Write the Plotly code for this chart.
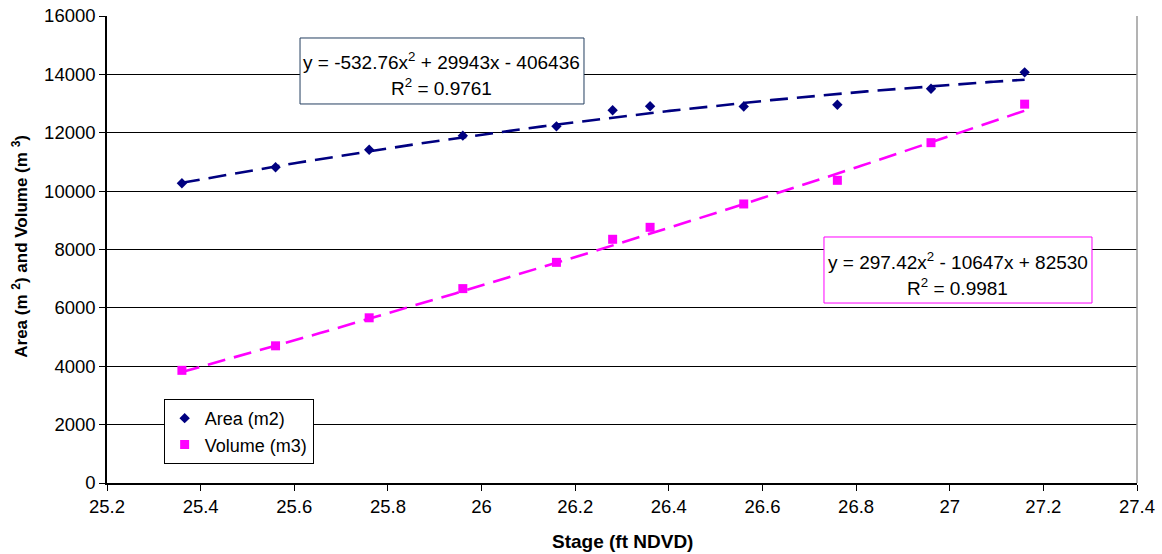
import numpy as np
import plotly.graph_objects as go

# Stage readings (ft NDVD)
stage = [25.36, 25.56, 25.76, 25.96, 26.16, 26.28, 26.36, 26.56, 26.76, 26.96, 27.16]
# Surface area (m2) and storage volume (m3) at each stage
area = [10270, 10820, 11420, 11900, 12220, 12770, 12910, 12900, 12960, 13510, 14070]
volume = [3860, 4700, 5660, 6660, 7560, 8350, 8760, 9560, 10370, 11660, 12980]

# Second-order polynomial trendline coefficients (a, b, c) for a*x^2 + b*x + c
area_coef = [-532.76, 29943, -406436]
area_r2 = 0.9761
volume_coef = [297.42, -10647, 82530]
volume_r2 = 0.9981

x_ticks = [25.2, 25.4, 25.6, 25.8, 26.0, 26.2, 26.4, 26.6, 26.8, 27.0, 27.2, 27.4]
x_tick_text = ["25.2", "25.4", "25.6", "25.8", "26", "26.2", "26.4", "26.6", "26.8", "27", "27.2", "27.4"]
y_ticks = [0, 2000, 4000, 6000, 8000, 10000, 12000, 14000, 16000]
y_tick_text = ["0", "2000", "4000", "6000", "8000", "10000", "12000", "14000", "16000"]

NAVY = "#000080"
MAGENTA = "#FF00FF"
FONT = "Liberation Sans, Arial, sans-serif"
TICK_SIZE = 18.5


def poly_text(c):
    def term(v, suffix, first=False):
        s = f"{abs(v):g}{suffix}"
        if first:
            return ("-" if v < 0 else "") + s
        return (" - " if v < 0 else " + ") + s
    return "y = " + term(c[0], "x<sup>2</sup>", True) + term(c[1], "x") + term(c[2], "")


xs = np.linspace(min(stage), max(stage), 300)

fig = go.Figure()

fig.add_trace(go.Scatter(
    x=xs, y=np.polyval(area_coef, xs), mode="lines",
    line=dict(color=NAVY, width=2.6, dash="18px,9px"),
    showlegend=False, hoverinfo="skip"))
fig.add_trace(go.Scatter(
    x=xs, y=np.polyval(volume_coef, xs), mode="lines",
    line=dict(color=MAGENTA, width=2.6, dash="18px,9px"),
    showlegend=False, hoverinfo="skip"))

fig.add_trace(go.Scatter(
    x=stage, y=area, mode="markers", name="Area (m2)",
    marker=dict(symbol="diamond", size=8, color=NAVY)))
fig.add_trace(go.Scatter(
    x=stage, y=volume, mode="markers", name="Volume (m3)",
    marker=dict(symbol="square", size=9, color=MAGENTA)))

axis_common = dict(
    showline=True, linecolor="black", linewidth=1.5,
    ticks="outside", ticklen=6, tickcolor="black", tickwidth=1,
    tickfont=dict(family=FONT, size=TICK_SIZE, color="black"),
    zeroline=False, automargin=False,
)

fig.update_xaxes(
    range=[25.2, 27.4], tickmode="array", tickvals=x_ticks, ticktext=x_tick_text,
    showgrid=False, **axis_common)
fig.update_yaxes(
    range=[0, 16000], tickmode="array", tickvals=y_ticks, ticktext=y_tick_text,
    showgrid=True, gridcolor="black", gridwidth=1, **axis_common)

shapes = [
    # right edge of the plot frame
    dict(type="line", xref="paper", yref="paper", x0=1, x1=1, y0=0, y1=1,
         line=dict(color="#9A9A9A", width=1.5)),
    # equation boxes
    dict(type="rect", xref="paper", yref="paper", x0=0.1874, x1=0.4631, y0=0.8116, y1=0.9529,
         line=dict(color="#243F60", width=1), fillcolor="white", layer="above"),
    dict(type="rect", xref="paper", yref="paper", x0=0.6961, x1=0.9563, y0=0.3854, y1=0.5268,
         line=dict(color=MAGENTA, width=1), fillcolor="white", layer="above"),
]

eq_font = dict(family=FONT, size=19, color="black")
title_font = dict(family=FONT, color="black", weight="bold")
annotations = [
    dict(xref="paper", yref="paper", x=0.3252, y=0.9036, text=poly_text(area_coef),
         showarrow=False, font=eq_font, xanchor="center", yanchor="middle"),
    dict(xref="paper", yref="paper", x=0.3252, y=0.848, text=f"R<sup>2</sup> = {area_r2}",
         showarrow=False, font=eq_font, xanchor="center", yanchor="middle"),
    dict(xref="paper", yref="paper", x=0.8262, y=0.4754, text=poly_text(volume_coef),
         showarrow=False, font=eq_font, xanchor="center", yanchor="middle"),
    dict(xref="paper", yref="paper", x=0.8262, y=0.4197, text=f"R<sup>2</sup> = {volume_r2}",
         showarrow=False, font=eq_font, xanchor="center", yanchor="middle"),
    # axis titles
    dict(xref="paper", yref="paper", x=0.5, y=-0.1242, text="Stage (ft NDVD)",
         showarrow=False, font=dict(size=19, **title_font), xanchor="center", yanchor="middle"),
    dict(xref="paper", yref="paper", x=-0.0845, y=0.508,
         text="Area (m <sup>2</sup>) and Volume (m <sup>3</sup>)", textangle=-90,
         showarrow=False, font=dict(size=17, **title_font), xanchor="center", yanchor="middle"),
]

fig.update_layout(
    width=1162, height=554, autosize=False,
    margin=dict(l=107, r=25, t=16, b=71),
    paper_bgcolor="white", plot_bgcolor="white",
    shapes=shapes, annotations=annotations,
    legend=dict(x=0.055, y=0.18, xanchor="left", yanchor="top",
                bgcolor="white", bordercolor="black", borderwidth=1,
                font=dict(family=FONT, size=18, color="black"),
                tracegroupgap=5),
    font=dict(family=FONT, color="black"),
)

fig.write_html("out.html")
